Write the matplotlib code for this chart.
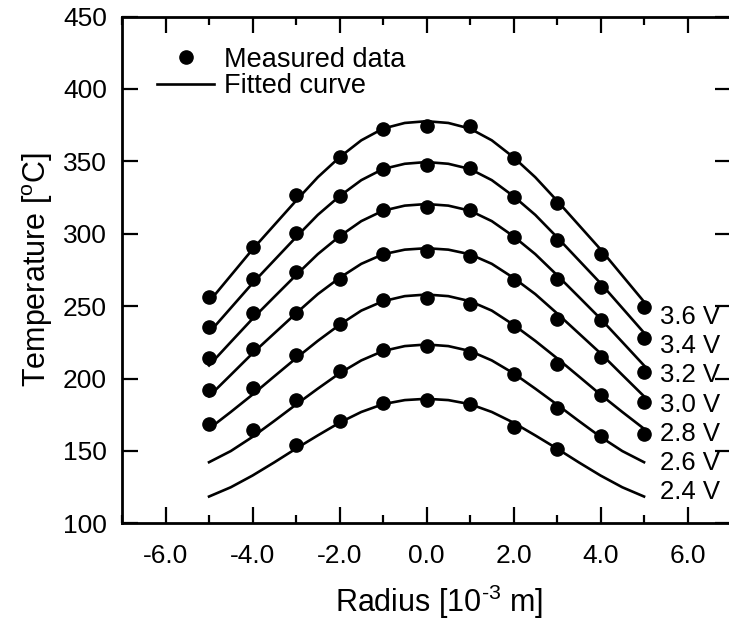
import numpy as np
import matplotlib
matplotlib.use("Agg")
import matplotlib.pyplot as plt
from matplotlib.ticker import MultipleLocator, FormatStrFormatter
from matplotlib.lines import Line2D

plt.rcParams["font.family"] = ["Liberation Sans", "DejaVu Sans"]
plt.rcParams["mathtext.fontset"] = "custom"
plt.rcParams["mathtext.rm"] = "Liberation Sans"
plt.rcParams["mathtext.it"] = "Liberation Sans:italic"

# measured points, radius in 1e-3 m
radius = [-5, -4, -3, -2, -1, 0, 1, 2, 3, 4, 5]
nan = np.nan
meas_36 = [256.5, 290.9, 326.6, 353.1, 372.1, 374.4, 374.4, 352.0, 321.3, 286.3, 249.4]
meas_34 = [235.3, 269.0, 300.2, 326.0, 344.6, 347.4, 345.5, 325.5, 295.5, 263.2, 227.9]
meas_32 = [213.9, 245.2, 273.6, 298.1, 316.3, 318.5, 316.3, 297.4, 268.5, 240.2, 204.4]
meas_30 = [191.8, 220.1, 245.2, 268.5, 286.3, 288.1, 284.4, 267.9, 240.9, 214.8, 183.7]
meas_28 = [168.8, 193.4, 216.5, 237.4, 254.0, 255.9, 251.7, 236.0, 210.2, 188.3, 161.8]
meas_26 = [nan, 164.6, 185.3, 205.1, 219.4, 222.4, 217.6, 203.3, 179.8, 160.2, nan]
meas_24 = [nan, nan, 154.2, 170.5, 183.0, 184.9, 182.1, 166.4, 151.4, nan, nan]

# fitted curves
radius_fit = [-5.0, -4.5, -4.0, -3.5, -3.0, -2.5, -2.0, -1.5, -1.0, -0.5, 0.0,
              0.5, 1.0, 1.5, 2.0, 2.5, 3.0, 3.5, 4.0, 4.5, 5.0]
fit_36 = [253.0, 271.1, 289.2, 306.0, 322.8, 339.0, 352.8, 364.5, 372.6, 376.5, 377.7,
          376.5, 372.6, 364.5, 352.8, 339.0, 322.8, 306.0, 289.2, 271.1, 253.0]
fit_34 = [231.6, 248.7, 265.8, 281.7, 297.6, 313.0, 325.9, 337.0, 344.7, 348.3, 349.5,
          348.3, 344.7, 337.0, 325.9, 313.0, 297.6, 281.7, 265.8, 248.7, 231.6]
fit_32 = [209.0, 225.2, 241.3, 256.4, 271.4, 285.9, 298.2, 308.7, 315.9, 319.4, 320.5,
          319.4, 315.9, 308.7, 298.2, 285.9, 271.4, 256.4, 241.3, 225.2, 209.0]
fit_30 = [187.7, 202.5, 217.4, 231.2, 245.0, 258.3, 269.5, 279.2, 285.8, 289.0, 290.0,
          289.0, 285.8, 279.2, 269.5, 258.3, 245.0, 231.2, 217.4, 202.5, 187.7]
fit_28 = [165.3, 176.9, 188.9, 201.5, 214.0, 226.0, 237.1, 246.9, 253.4, 256.9, 258.0,
          256.9, 253.4, 246.9, 237.1, 226.0, 214.0, 201.5, 188.9, 176.9, 165.3]
fit_26 = [142.2, 149.9, 159.7, 170.7, 182.0, 193.0, 203.6, 212.5, 219.0, 222.4, 223.5,
          222.4, 219.0, 212.5, 203.6, 193.0, 182.0, 170.7, 159.7, 149.9, 142.2]
fit_24 = [118.5, 124.9, 133.0, 142.1, 151.6, 160.7, 169.5, 176.9, 182.3, 185.1, 186.0,
          185.1, 182.3, 176.9, 169.5, 160.7, 151.6, 142.1, 133.0, 124.9, 118.5]

voltages = ["3.6 V", "3.4 V", "3.2 V", "3.0 V", "2.8 V", "2.6 V", "2.4 V"]
measured = [meas_36, meas_34, meas_32, meas_30, meas_28, meas_26, meas_24]
fitted = [fit_36, fit_34, fit_32, fit_30, fit_28, fit_26, fit_24]

fig = plt.figure(figsize=(7.29, 6.21), dpi=100)
ax = fig.add_axes([0.1674, 0.1573, 0.8354, 0.8161])

for f in fitted:
    ax.plot(radius_fit, f, color="black", lw=1.9, zorder=2, solid_joinstyle="round")
for m in measured:
    ax.plot(radius, m, "o", color="black", ms=9.5, zorder=3)

# voltage labels next to the right ends
for i, v in enumerate(voltages):
    ax.text(5.36, 242.5 - 20.2 * i, v, fontsize=18.5, ha="left", va="center", clip_on=False)

ax.set_xlim(-7, 7)
ax.set_ylim(100, 450)
ax.xaxis.set_major_locator(MultipleLocator(2))
ax.xaxis.set_minor_locator(MultipleLocator(1))
ax.xaxis.set_major_formatter(FormatStrFormatter("%.1f"))
ax.yaxis.set_major_locator(MultipleLocator(50))
ax.tick_params(which="both", direction="in", top=True, right=True, width=1.6)
ax.tick_params(which="major", length=11.5)
ax.tick_params(which="minor", length=6)
ax.tick_params(axis="x", which="major", labelsize=19, pad=15)
ax.tick_params(axis="y", which="major", labelsize=19, pad=11)
for s in ax.spines.values():
    s.set_linewidth(2)

ax.set_xlabel("Radius [10$^{\\mathrm{\u20103}}$ m]", fontsize=22)
ax.set_ylabel(r"Temperature [$^{\mathrm{o}}$C]", fontsize=22)
ax.xaxis.set_label_coords(0.52, -0.118)
ax.yaxis.set_label_coords(-0.11, 0.5)

handles = [Line2D([], [], ls="none", marker="o", color="black", ms=9.5),
           Line2D([], [], color="black", lw=1.9)]
ax.legend(handles, ["Measured data", "Fitted curve"], loc="upper left",
          bbox_to_anchor=(0.058, 0.94), frameon=False, fontsize=19.5,
          handlelength=2.1, handletextpad=0.35, labelspacing=0.02,
          borderpad=0, borderaxespad=0)

fig.savefig("out.png", dpi=100)
